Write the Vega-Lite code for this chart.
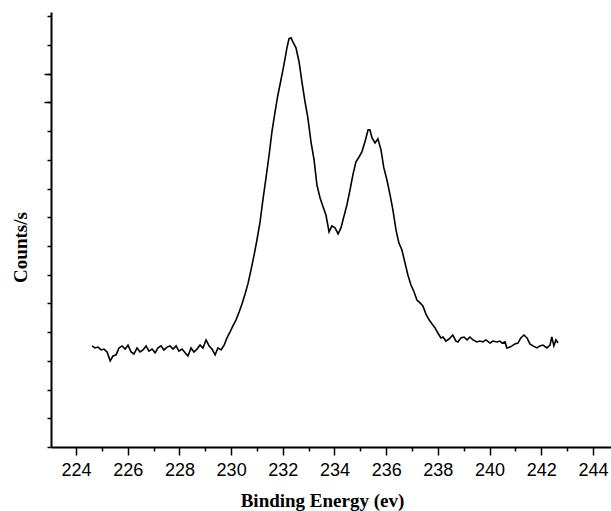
{
  "$schema": "https://vega.github.io/schema/vega-lite/v6.json",
  "width": 560,
  "height": 435,
  "autosize": {"type": "none"},
  "padding": {"left": 51, "top": 12, "right": 0, "bottom": 64},
  "background": "white",
  "config": {
    "view": {"stroke": null},
    "axis": {"grid": false, "domainColor": "black", "tickColor": "black", "labelColor": "black", "titleColor": "black"}
  },
  "data": {"values": [
    {"E":224.62,"c":3.52},{"E":224.73,"c":3.45},{"E":224.85,"c":3.48},{"E":224.97,"c":3.38},{"E":225.08,"c":3.41},{"E":225.20,"c":3.31},{"E":225.32,"c":3.00},{"E":225.43,"c":3.17},{"E":225.55,"c":3.21},{"E":225.66,"c":3.45},{"E":225.78,"c":3.52},{"E":225.90,"c":3.41},{"E":226.01,"c":3.55},{"E":226.13,"c":3.31},{"E":226.24,"c":3.24},{"E":226.36,"c":3.45},{"E":226.48,"c":3.31},{"E":226.59,"c":3.38},{"E":226.71,"c":3.52},{"E":226.82,"c":3.34},{"E":226.94,"c":3.41},{"E":227.06,"c":3.28},{"E":227.17,"c":3.45},{"E":227.29,"c":3.52},{"E":227.40,"c":3.38},{"E":227.52,"c":3.48},{"E":227.64,"c":3.52},{"E":227.75,"c":3.41},{"E":227.87,"c":3.52},{"E":227.98,"c":3.34},{"E":228.10,"c":3.41},{"E":228.22,"c":3.28},{"E":228.33,"c":3.17},{"E":228.45,"c":3.45},{"E":228.56,"c":3.31},{"E":228.68,"c":3.41},{"E":228.80,"c":3.55},{"E":228.91,"c":3.45},{"E":229.03,"c":3.73},{"E":229.15,"c":3.52},{"E":229.26,"c":3.41},{"E":229.38,"c":3.21},{"E":229.49,"c":3.45},{"E":229.61,"c":3.38},{"E":229.73,"c":3.55},
    {"E":229.84,"c":3.80},{"E":229.96,"c":4.01},{"E":230.07,"c":4.22},{"E":230.19,"c":4.43},{"E":230.31,"c":4.70},{"E":230.42,"c":4.98},{"E":230.54,"c":5.33},{"E":230.65,"c":5.68},{"E":230.77,"c":6.17},{"E":230.89,"c":6.69},{"E":231.00,"c":7.21},{"E":231.12,"c":7.84},{"E":231.23,"c":8.61},{"E":231.35,"c":9.37},{"E":231.47,"c":10.17},{"E":231.58,"c":10.98},{"E":231.70,"c":11.67},{"E":231.81,"c":12.26},{"E":231.93,"c":12.79},{"E":232.05,"c":13.34},{"E":232.16,"c":13.90},{"E":232.24,"c":14.22},{"E":232.32,"c":14.25},{"E":232.39,"c":14.11},{"E":232.51,"c":13.90},{"E":232.63,"c":13.41},{"E":232.74,"c":12.72},{"E":232.86,"c":12.02},{"E":232.97,"c":11.46},{"E":233.09,"c":10.63},{"E":233.21,"c":10.00},{"E":233.32,"c":9.13},{"E":233.44,"c":8.68},{"E":233.56,"c":8.36},{"E":233.67,"c":8.08},{"E":233.79,"c":7.49},{"E":233.90,"c":7.70},{"E":234.02,"c":7.63},{"E":234.14,"c":7.42},{"E":234.25,"c":7.63},{"E":234.37,"c":8.05},{"E":234.48,"c":8.43},{"E":234.60,"c":8.95},{"E":234.72,"c":9.51},{"E":234.83,"c":9.93},{"E":234.95,"c":10.10},{"E":235.06,"c":10.28},{"E":235.18,"c":10.63},{"E":235.30,"c":11.05},{"E":235.37,"c":11.05},{"E":235.45,"c":10.77},{"E":235.57,"c":10.59},{"E":235.68,"c":10.73},{"E":235.80,"c":10.35},{"E":235.91,"c":9.72},{"E":236.03,"c":9.30},{"E":236.15,"c":8.78},{"E":236.26,"c":8.26},{"E":236.38,"c":7.56},{"E":236.49,"c":7.11},{"E":236.61,"c":6.86},{"E":236.73,"c":6.41},{"E":236.84,"c":5.99},{"E":236.96,"c":5.64},{"E":237.08,"c":5.40},{"E":237.19,"c":5.12},{"E":237.31,"c":5.02},{"E":237.42,"c":4.91},{"E":237.54,"c":4.63},{"E":237.66,"c":4.43},{"E":237.77,"c":4.29},{"E":237.89,"c":4.15},{"E":238.00,"c":3.97},{"E":238.12,"c":3.80},
    {"E":238.20,"c":3.83},{"E":238.31,"c":3.69},{"E":238.43,"c":3.76},{"E":238.58,"c":3.90},{"E":238.70,"c":3.69},{"E":238.78,"c":3.66},{"E":238.89,"c":3.80},{"E":239.01,"c":3.83},{"E":239.13,"c":3.73},{"E":239.24,"c":3.83},{"E":239.36,"c":3.73},{"E":239.51,"c":3.66},{"E":239.63,"c":3.69},{"E":239.74,"c":3.66},{"E":239.86,"c":3.73},{"E":240.02,"c":3.62},{"E":240.13,"c":3.69},{"E":240.29,"c":3.66},{"E":240.40,"c":3.69},{"E":240.48,"c":3.62},{"E":240.60,"c":3.66},{"E":240.67,"c":3.45},{"E":240.79,"c":3.48},{"E":240.87,"c":3.52},{"E":240.98,"c":3.59},{"E":241.10,"c":3.62},{"E":241.21,"c":3.80},{"E":241.33,"c":3.90},{"E":241.45,"c":3.80},{"E":241.56,"c":3.59},{"E":241.68,"c":3.52},{"E":241.83,"c":3.45},{"E":241.95,"c":3.52},{"E":242.07,"c":3.55},{"E":242.22,"c":3.45},{"E":242.34,"c":3.55},{"E":242.41,"c":3.83},{"E":242.49,"c":3.52},{"E":242.57,"c":3.73},{"E":242.65,"c":3.62}
  ]},
  "layer": [
    {
      "mark": {"type": "line", "color": "black", "strokeWidth": 1.6},
      "encoding": {
        "x": {"field": "E", "type": "quantitative",
          "scale": {"domain": [223.03, 244.7], "nice": false, "zero": false},
          "axis": {"orient": "bottom", "values": [224,226,228,230,232,234,236,238,240,242,244], "format": "d",
            "tickSize": 8, "tickWidth": 1.5, "domainWidth": 2,
            "labelFont": "Liberation Sans", "labelFontSize": 18, "labelPadding": 6, "labelFlush": false,
            "title": "Binding Energy (ev)", "titleFont": "Liberation Serif", "titleFontSize": 19, "titleFontWeight": "bold",
            "titleX": 271, "titleY": 53, "titleBaseline": "middle", "titleAnchor": "middle"}},
        "y": {"field": "c", "type": "quantitative",
          "scale": {"domain": [0, 15.15], "nice": false, "zero": true},
          "axis": {"orient": "left", "values": [0,1,2,3,4,5,6,7,8,9,10,11,12,13,14,15], "labels": false,
            "tickSize": 4, "tickWidth": 1.5, "domainWidth": 2,
            "title": "Counts/s", "titleFont": "Liberation Serif", "titleFontSize": 19, "titleFontWeight": "bold",
            "titleAngle": -90, "titleX": -31, "titleY": 235, "titleBaseline": "middle", "titleAnchor": "middle"}}
      }
    },
    {
      "mark": {"type": "line", "opacity": 0},
      "encoding": {
        "x": {"field": "E", "type": "quantitative",
          "scale": {"domain": [223.03, 244.7], "nice": false, "zero": false},
          "axis": {"orient": "bottom", "values": [225,227,229,231,233,235,237,239,241,243], "labels": false, "domain": false,
            "tickSize": 4, "tickWidth": 1.5, "title": null}},
        "y": {"field": "c", "type": "quantitative",
          "scale": {"domain": [0, 15.15], "nice": false, "zero": true},
          "axis": {"orient": "left", "values": [12, 13], "labels": false, "domain": false,
            "tickSize": 7, "tickWidth": 1.5, "title": null}}
      }
    }
  ],
  "resolve": {"axis": {"x": "independent", "y": "independent"}}
}
